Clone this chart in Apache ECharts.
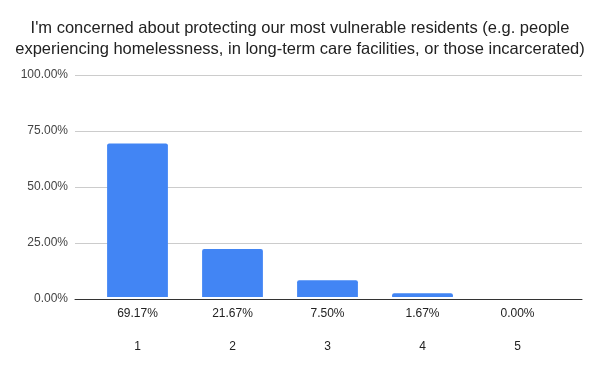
<!DOCTYPE html>
<html><head><meta charset="utf-8">
<script src="https://cdn.jsdelivr.net/npm/echarts@6/dist/echarts.min.js"></script>
<style>html,body{margin:0;padding:0;background:#fff}#c{width:600px;height:371px}</style>
</head><body><div id="c"></div>
<script>
const titleLines = ["I'm concerned about protecting our most vulnerable residents (e.g. people", "experiencing homelessness, in long-term care facilities, or those incarcerated)"];
const categories = ["1", "2", "3", "4", "5"];
const values = [69.17, 21.67, 7.50, 1.67, 0.00];
const yTicks = [0, 25, 50, 75, 100];
const FONT = '"Liberation Sans", Arial, sans-serif';

const chart = echarts.init(document.getElementById('c'));
chart.setOption({
  animation: false,
  title: {
    text: titleLines.join('\n'),
    left: 'center', top: 13,
    textStyle: {fontFamily: FONT, fontSize: 16.5, fontWeight: 'normal', color: '#222', lineHeight: 21}
  },
  grid: [
    {left: 75, right: 18, top: 75, bottom: 72},
    {left: 90, right: 35, top: 75, bottom: 72}
  ],
  xAxis: [
    {type: 'category', gridIndex: 0, data: categories, axisLine: {show: true, lineStyle: {color: '#333'}}, axisTick: {show: false}, axisLabel: {show: false}},
    {type: 'category', gridIndex: 1, data: categories, axisLine: {show: false}, axisTick: {show: false},
     axisLabel: {
       margin: 8,
       fontFamily: FONT,
       formatter: (v, i) => '{v|' + values[i].toFixed(2) + '%}\n{c|' + v + '}',
       rich: {
         v: {fontSize: 12, color: '#222', height: 18, lineHeight: 18, fontFamily: FONT},
         c: {fontSize: 12, color: '#222', height: 48, lineHeight: 48, fontFamily: FONT}
       }
     }}
  ],
  yAxis: [
    {type: 'value', gridIndex: 0, min: yTicks[0], max: yTicks[yTicks.length-1], interval: 25,
     axisLine: {show: false}, axisTick: {show: false},
     splitLine: {lineStyle: {color: '#ccc'}},
     axisLabel: {margin: 7, color: '#444', fontSize: 12, fontFamily: FONT, formatter: v => v.toFixed(2) + '%'}},
    {type: 'value', gridIndex: 1, min: 0, max: 100, interval: 25, show: false}
  ],
  series: [{
    type: 'bar', xAxisIndex: 1, yAxisIndex: 1, data: values,
    barCategoryGap: '36%',
    itemStyle: {color: '#4285F4', borderRadius: [2, 2, 0, 0]}
  }]
});
</script></body></html>
